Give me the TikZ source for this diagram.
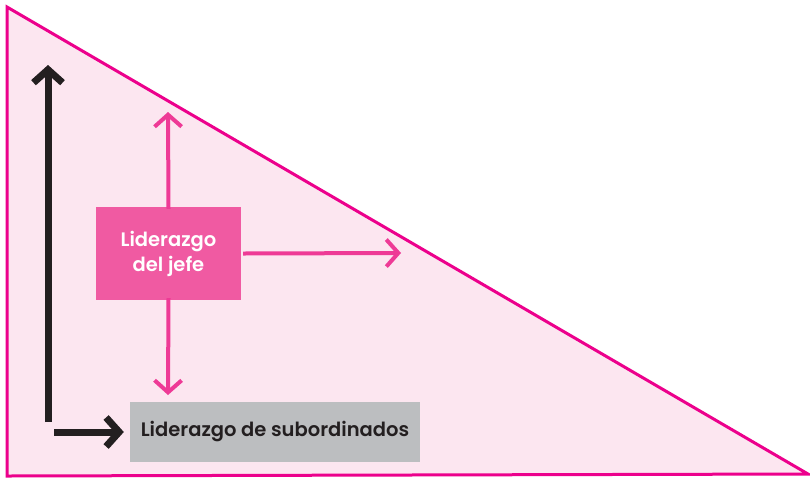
\documentclass[tikz,border=0pt]{standalone}
\usepackage{fontspec}
\setmainfont{Poppins}[BoldFont={Poppins SemiBold}]
\usetikzlibrary{arrows.meta,positioning}
\definecolor{rosa}{HTML}{EC008C}
\definecolor{rosaclaro}{HTML}{FCE6F0}
\definecolor{rosacaja}{HTML}{F05AA2}
\definecolor{rosaflecha}{HTML}{EE3A96}
\definecolor{negro}{HTML}{231F20}
\definecolor{gris}{HTML}{BCBEC0}
\tikzset{jefe/.style = {rectangle, fill=rosacaja, text=white, font=\fontsize{19.5}{25}\selectfont\bfseries, align=center, minimum width=145pt, minimum height=93pt, inner sep=0pt},
    subord/.style = {rectangle, fill=gris, text=negro, font=\fontsize{19.5}{22}\selectfont\bfseries, minimum width=290pt, minimum height=60pt, inner sep=0pt},
    flecha/.style = {-{Straight Barb[length=12pt,width=27pt]}, line width=4pt, draw=rosaflecha},
    eje/.style = {-{Straight Barb[length=13pt,width=29pt]}, line width=7pt, draw=negro}
}
\begin{document}
\begin{tikzpicture}[x=1pt,y=-1pt]
 \useasboundingbox (0,0) rectangle (810,480);
 % triangulo
 \draw[rosa, fill=rosaclaro, line width=3pt, line join=miter] (7,7) -- (7,476) -- (808,474) -- cycle;
 % cajas
 \node[jefe] (jefe) at (168.5,253.5) {Liderazgo\\del jefe};
 \node[subord] (sub) at (275,432) {Liderazgo de subordinados};
 \coordinate (arriba) at (168,112);
 \coordinate (derecha) at (401,253);
 \coordinate (abajo) at (168,395);
 \draw[flecha] ([yshift=-2pt]jefe.north) -- (arriba);
 \draw[flecha] ([xshift=2pt]jefe.east) -- (derecha);
 \draw[flecha] ([yshift=2pt]jefe.south) -- (abajo);
 % ejes
 \coordinate (origen) at (48,422);
 \coordinate (tope) at (48,65);
 \coordinate (inicio) at (54,432);
 \draw[eje] (origen) -- (tope);
 \draw[eje] (inicio) -- ([xshift=-6pt]sub.west);
\end{tikzpicture}
\end{document}
